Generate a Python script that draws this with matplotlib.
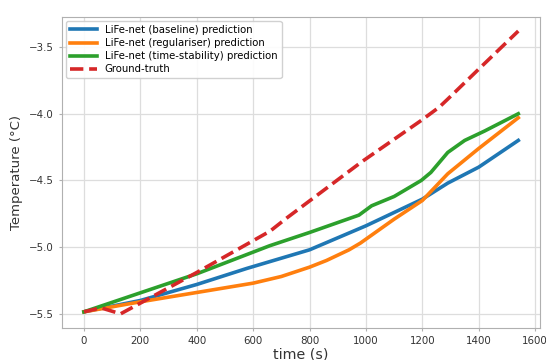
import matplotlib
matplotlib.use("Agg")
import matplotlib.pyplot as plt

# time (s) and temperature (degC)
t_gt = [0, 60, 130, 400, 660, 720, 985, 1196, 1260, 1290, 1400, 1540]
y_gt = [-5.485, -5.455, -5.50, -5.19, -4.88, -4.78, -4.36, -4.05, -3.95, -3.89, -3.665, -3.38]

t_base = [0, 200, 400, 577, 800, 1000, 1200, 1290, 1400, 1540]
y_base = [-5.485, -5.40, -5.28, -5.16, -5.02, -4.84, -4.64, -4.52, -4.40, -4.20]

t_reg = [0, 200, 400, 600, 700, 800, 860, 940, 980, 1020, 1100, 1200, 1290, 1400, 1540]
y_reg = [-5.485, -5.41, -5.34, -5.27, -5.22, -5.15, -5.10, -5.02, -4.97, -4.91, -4.79, -4.65, -4.45, -4.26, -4.03]

t_ts = [0, 400, 658, 800, 975, 1020, 1100, 1196, 1230, 1290, 1350, 1420, 1540]
y_ts = [-5.485, -5.20, -4.99, -4.89, -4.76, -4.69, -4.62, -4.50, -4.44, -4.29, -4.20, -4.13, -4.00]

fig = plt.figure(figsize=(5.46, 3.6), dpi=100)
ax = fig.add_axes([0.114, 0.089, 0.875, 0.864])

lw = 2.6
ax.plot(t_base, y_base, color="#1f77b4", lw=lw, label="LiFe-net (baseline) prediction")
ax.plot(t_reg, y_reg, color="#ff7f0e", lw=lw, label="LiFe-net (regulariser) prediction")
ax.plot(t_ts, y_ts, color="#2ca02c", lw=lw, label="LiFe-net (time-stability) prediction")
ax.plot(t_gt, y_gt, color="#d62728", lw=lw, ls="--", label="Ground-truth")

ax.set_xticks([0, 200, 400, 600, 800, 1000, 1200, 1400, 1600])
ax.set_yticks([-5.5, -5.0, -4.5, -4.0, -3.5])
ax.grid(True, color="#dddddd", lw=0.9)
for s in ax.spines.values():
    s.set_color("#b0b0b0")
ax.tick_params(colors="#b0b0b0", labelcolor="#333333", labelsize=7.4, length=2.5)
ax.set_xlabel("time (s)", fontsize=10.3, color="#333333", labelpad=1)
ax.set_ylabel("Temperature (°C)", fontsize=9.5, color="#333333", labelpad=4)
ax.legend(loc="upper left", fontsize=7.3, framealpha=0.9, handlelength=2.6,
          borderaxespad=0.4, labelspacing=0.3)

fig.savefig("out.png", dpi=100)
